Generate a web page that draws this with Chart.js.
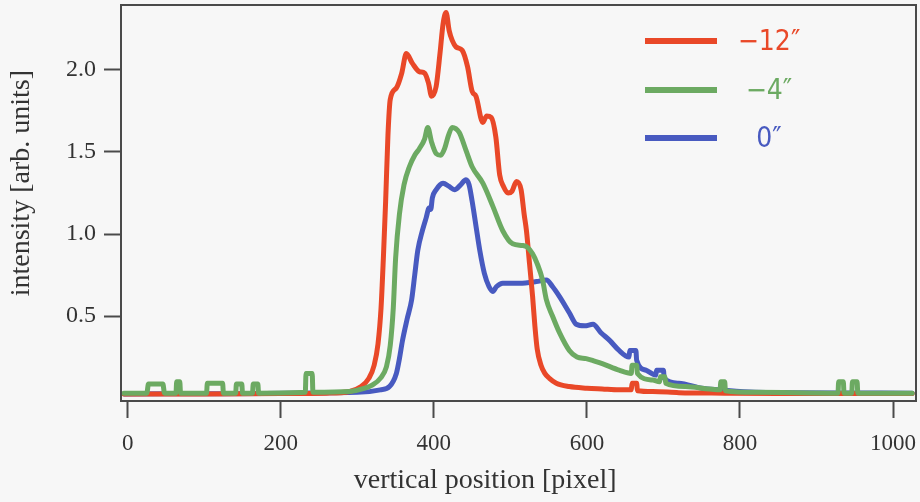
<!DOCTYPE html>
<html>
<head>
<meta charset="utf-8">
<script src="https://cdn.jsdelivr.net/npm/chart.js@4"></script>
<style>
  html, body { margin: 0; padding: 0; background: #f7f7f7; }
  #wrap { width: 920px; height: 502px; }
</style>
</head>
<body>
<div id="wrap"><canvas id="profileChart" width="920" height="502"></canvas></div>
<script>
// series labels
var seriesLabels = ['\u221212\u2033', '\u22124\u2033', '0\u2033'];

// -12" profile
var redX = [-5, 30, 100, 200, 260, 290, 305, 315, 322, 327, 331, 334, 337, 340, 343, 351, 358, 364, 372, 381, 388, 393, 397, 403, 408, 412, 416, 420, 424, 429, 437, 444, 450, 455, 464, 469, 475, 481, 486, 491, 497, 502, 508, 514, 518, 521, 525, 529, 532, 535, 540, 545, 551, 560, 577, 600, 620, 642, 658, 659, 665, 666, 686, 720, 780, 850, 1025];
var redY = [0.025, 0.025, 0.025, 0.028, 0.03, 0.04, 0.07, 0.12, 0.2, 0.33, 0.55, 0.85, 1.2, 1.6, 1.82, 1.89, 1.98, 2.10, 2.04, 1.99, 1.98, 1.92, 1.84, 1.90, 2.10, 2.28, 2.35, 2.24, 2.18, 2.14, 2.12, 2.02, 1.87, 1.84, 1.68, 1.72, 1.71, 1.59, 1.36, 1.29, 1.25, 1.26, 1.32, 1.27, 1.12, 1.02, 0.82, 0.62, 0.44, 0.3, 0.2, 0.15, 0.12, 0.09, 0.07, 0.06, 0.055, 0.05, 0.05, 0.09, 0.09, 0.045, 0.04, 0.033, 0.03, 0.028, 0.028];

// -4" profile
var greenX = [-5, 25, 27, 46, 48, 63, 64, 68, 69, 103, 104, 124, 125, 141, 142, 149, 150, 163, 164, 170, 171, 232, 233, 241, 242, 290, 310, 320, 330, 338, 343, 347, 350, 355, 361, 368, 375, 381, 388, 392, 397, 403, 409, 414, 419, 424, 433, 442, 450, 464, 477, 490, 503, 516, 522, 529, 535, 542, 547, 555, 564, 577, 587, 599, 610, 620, 642, 658, 659, 665, 666, 686, 695, 696, 702, 703, 729, 760, 774, 775, 780, 781, 820, 928, 929, 935, 936, 946, 947, 953, 954, 1025];
var greenY = [0.03, 0.03, 0.085, 0.085, 0.03, 0.03, 0.10, 0.10, 0.03, 0.03, 0.09, 0.09, 0.03, 0.03, 0.085, 0.085, 0.03, 0.03, 0.085, 0.085, 0.03, 0.035, 0.15, 0.15, 0.035, 0.04, 0.06, 0.08, 0.12, 0.19, 0.32, 0.55, 0.85, 1.12, 1.30, 1.41, 1.48, 1.52, 1.58, 1.65, 1.56, 1.49, 1.48, 1.52, 1.60, 1.65, 1.62, 1.51, 1.41, 1.31, 1.17, 1.02, 0.94, 0.93, 0.92, 0.88, 0.82, 0.72, 0.60, 0.50, 0.40, 0.29, 0.25, 0.24, 0.225, 0.21, 0.17, 0.15, 0.20, 0.20, 0.15, 0.11, 0.10, 0.13, 0.13, 0.09, 0.07, 0.055, 0.05, 0.10, 0.10, 0.045, 0.035, 0.03, 0.10, 0.10, 0.03, 0.03, 0.10, 0.10, 0.03, 0.03];

// 0" profile
var blueX = [-5, 300, 330, 342, 351, 355, 359, 365, 371, 375, 379, 385, 390, 394, 396, 398, 403, 408, 412, 420, 427, 435, 442, 446, 450, 455, 460, 466, 472, 477, 482, 490, 512, 534, 547, 555, 564, 577, 586, 597, 608, 618, 630, 642, 655, 656, 664, 665, 677, 690, 691, 700, 701, 720, 750, 773, 820, 1025];
var blueY = [0.025, 0.035, 0.05, 0.07, 0.15, 0.24, 0.35, 0.48, 0.60, 0.75, 0.90, 1.02, 1.10, 1.16, 1.15, 1.22, 1.27, 1.30, 1.31, 1.29, 1.27, 1.30, 1.33, 1.30, 1.20, 1.05, 0.90, 0.76, 0.68, 0.65, 0.68, 0.70, 0.70, 0.71, 0.72, 0.68, 0.62, 0.52, 0.45, 0.44, 0.45, 0.40, 0.35, 0.29, 0.25, 0.29, 0.29, 0.23, 0.17, 0.14, 0.17, 0.17, 0.12, 0.09, 0.06, 0.05, 0.035, 0.03];

// tick labels
var xTicks = [0, 200, 400, 600, 800, 1000];
var yTicks = [0.5, 1.0, 1.5, 2.0];

var colors = ['rgb(233,72,40)', 'rgb(108,170,98)', 'rgb(72,90,192)'];
var axisColor = '#4a4a4a';
var serif = '"Liberation Serif", "Times New Roman", serif';

function pairs(xs, ys) {
    return xs.map(function (x, i) { return { x: x, y: ys[i] }; });
}

// no automatic label padding, chart area fixed by afterFit sizes
function noPad(scale) {
    scale.paddingTop = 0;
    scale.paddingBottom = 0;
    scale.paddingLeft = 0;
    scale.paddingRight = 0;
}

// axis titles + in-plot legend
var decor = {
    id: 'decor',
    afterDatasetsDraw: function (chart) {
        var a = chart.chartArea, ctx = chart.ctx;
        var xs = chart.scales.x, ys = chart.scales.y;
        ctx.save();
        // frame
        ctx.strokeStyle = axisColor;
        ctx.lineWidth = 2;
        ctx.strokeRect(a.left, a.top, a.right - a.left, a.bottom - a.top);

        // legend
        var rowY = [41, 90, 138];
        chart.data.datasets.forEach(function (ds, i) {
            ctx.strokeStyle = ds.borderColor;
            ctx.lineWidth = 6;
            ctx.beginPath();
            ctx.moveTo(645, rowY[i]);
            ctx.lineTo(717, rowY[i]);
            ctx.stroke();
            ctx.fillStyle = ds.borderColor;
            ctx.font = '28px "Liberation Sans Narrow", "DejaVu Sans Condensed", sans-serif';
            ctx.textAlign = 'center';
            ctx.textBaseline = 'middle';
            ctx.fillText(ds.label, 769, rowY[i] + 2);
        });

        // axis titles
        ctx.fillStyle = '#333';
        ctx.font = '28px ' + serif;
        ctx.textAlign = 'center';
        ctx.textBaseline = 'middle';
        ctx.fillText('vertical position [pixel]', xs.getPixelForValue(467), 481);
        ctx.translate(22, ys.getPixelForValue(1.31));
        ctx.rotate(-Math.PI / 2);
        ctx.fillText('intensity [arb. units]', 0, 0);
        ctx.restore();
    }
};

function makeSet(label, xs, ys, color, order) {
    return {
        label: label,
        data: pairs(xs, ys),
        borderColor: color,
        backgroundColor: color,
        borderWidth: 5,
        pointRadius: 0,
        cubicInterpolationMode: 'monotone',
        borderJoinStyle: 'round',
        borderCapStyle: 'round',
        order: order
    };
}

new Chart(document.getElementById('profileChart'), {
    type: 'line',
    data: {
        datasets: [
            makeSet(seriesLabels[0], redX, redY, colors[0], 1),
            makeSet(seriesLabels[1], greenX, greenY, colors[1], 0),
            makeSet(seriesLabels[2], blueX, blueY, colors[2], 2)
        ]
    },
    options: {
        responsive: false,
        animation: false,
        layout: { padding: { top: 5, right: 4, left: 0, bottom: 0 } },
        plugins: {
            legend: { display: false },
            tooltip: { enabled: false }
        },
        scales: {
            x: {
                type: 'linear',
                min: -8.8,
                max: 1030,
                afterBuildTicks: function (scale) {
                    scale.ticks = xTicks.map(function (v) { return { value: v }; });
                },
                afterFit: function (scale) { scale.height = 101; noPad(scale); },
                grid: {
                    drawOnChartArea: false,
                    drawTicks: true,
                    tickLength: 17,
                    tickWidth: 2,
                    tickColor: axisColor
                },
                border: { display: false },
                ticks: {
                    padding: 12,
                    maxRotation: 0,
                    color: '#333',
                    font: { family: serif, size: 23 },
                    callback: function (v) { return String(v); }
                }
            },
            y: {
                type: 'linear',
                min: -0.018,
                max: 2.396,
                afterBuildTicks: function (scale) {
                    scale.ticks = yTicks.map(function (v) { return { value: v }; });
                },
                afterFit: function (scale) { scale.width = 121; noPad(scale); },
                grid: {
                    drawOnChartArea: false,
                    drawTicks: true,
                    tickLength: 17,
                    tickWidth: 2,
                    tickColor: axisColor
                },
                border: { display: false },
                ticks: {
                    padding: 8,
                    color: '#333',
                    font: { family: serif, size: 24 },
                    callback: function (v) { return v.toFixed(1); }
                }
            }
        }
    },
    plugins: [decor]
});
</script>
</body>
</html>
